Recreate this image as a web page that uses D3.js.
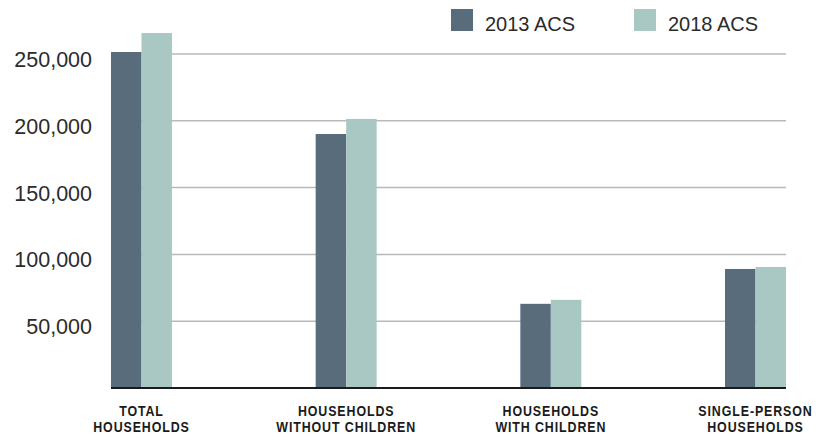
<!DOCTYPE html>
<html>
<head>
<meta charset="utf-8">
<script src="https://cdn.jsdelivr.net/npm/d3@7"></script>
<style>
  html, body { margin: 0; padding: 0; background: #fff; }
  svg { display: block; }
</style>
</head>
<body>
<svg id="chart" width="827" height="436"></svg>
<script>
// Household counts by type, 2013 vs 2018 ACS
const categories = [
  ["TOTAL", "HOUSEHOLDS"],
  ["HOUSEHOLDS", "WITHOUT CHILDREN"],
  ["HOUSEHOLDS", "WITH CHILDREN"],
  ["SINGLE-PERSON", "HOUSEHOLDS"]
];
const seriesNames = ["2013 ACS", "2018 ACS"];
const acs2013 = [251500, 190100, 63000, 89100];
const acs2018 = [265700, 201400, 66000, 90600];
const yTicks = [50000, 100000, 150000, 200000, 250000];
const colors = ["#586c7c", "#aac8c3"];

const svg = d3.select("#chart");
const plotLeft = 111, plotRight = 786, plotBottom = 388, plotTop = 54;

const x0 = d3.scaleBand()
  .domain(d3.range(categories.length))
  .range([plotLeft, plotRight])
  .paddingInner(0.702)
  .paddingOuter(0);
const x1 = d3.scaleBand()
  .domain(d3.range(seriesNames.length))
  .range([0, x0.bandwidth()]);
const y = d3.scaleLinear()
  .domain([0, 250000])
  .range([plotBottom, plotTop]);

// gridlines
svg.append("g")
  .selectAll("line")
  .data(yTicks)
  .join("line")
  .attr("x1", plotLeft).attr("x2", plotRight)
  .attr("y1", d => y(d)).attr("y2", d => y(d))
  .attr("stroke", "#b9b9b9")
  .attr("stroke-width", 1.5);

// y axis labels
svg.append("g")
  .selectAll("text")
  .data(yTicks)
  .join("text")
  .attr("x", 92)
  .attr("y", d => y(d) + 13)
  .attr("text-anchor", "end")
  .attr("font-family", "Liberation Sans, Arial, sans-serif")
  .attr("font-size", 21.5)
  .attr("fill", "#2b2b2b")
  .text(d => d3.format(",")(d));

// bars
const series = [acs2013, acs2018];
const groups = svg.append("g")
  .selectAll("g")
  .data(categories.map((c, i) => i))
  .join("g")
  .attr("transform", i => `translate(${x0(i)},0)`);

groups.selectAll("rect")
  .data(i => series.map((s, k) => ({ k, v: s[i] })))
  .join("rect")
  .attr("x", d => x1(d.k))
  .attr("width", x1.bandwidth())
  .attr("y", d => y(d.v))
  .attr("height", d => y(0) - y(d.v))
  .attr("fill", d => colors[d.k]);

// baseline
svg.append("line")
  .attr("x1", plotLeft).attr("x2", plotRight)
  .attr("y1", plotBottom).attr("y2", plotBottom)
  .attr("stroke", "#1a1a1a")
  .attr("stroke-width", 2);

// category labels: condensed bold caps, centred under each group
const labels = svg.append("g")
  .selectAll("text")
  .data(categories)
  .join("text")
  .attr("transform", (d, i) => `translate(${x0(i) + x0.bandwidth() / 2},416) scale(0.9,1)`)
  .attr("text-anchor", "middle")
  .attr("font-family", "'Liberation Sans', Arial, sans-serif")
  .attr("font-weight", "bold")
  .attr("font-size", 13.8)
  .attr("letter-spacing", 1)
  .attr("fill", "#1a1a1a");
labels.selectAll("tspan")
  .data(d => d)
  .join("tspan")
  .attr("x", 0)
  .attr("dy", (d, j) => j === 0 ? 0 : 16)
  .text(d => d);

// legend
const legendX = [451, 634];
const legend = svg.append("g")
  .selectAll("g")
  .data(seriesNames)
  .join("g")
  .attr("transform", (d, i) => `translate(${legendX[i]},9)`);
legend.append("rect")
  .attr("width", 22).attr("height", 22)
  .attr("fill", (d, i) => colors[i]);
legend.append("text")
  .attr("x", 34).attr("y", 22)
  .attr("font-family", "Liberation Sans, Arial, sans-serif")
  .attr("font-size", 20)
  .attr("fill", "#2b2b2b")
  .text(d => d);
</script>
</body>
</html>
